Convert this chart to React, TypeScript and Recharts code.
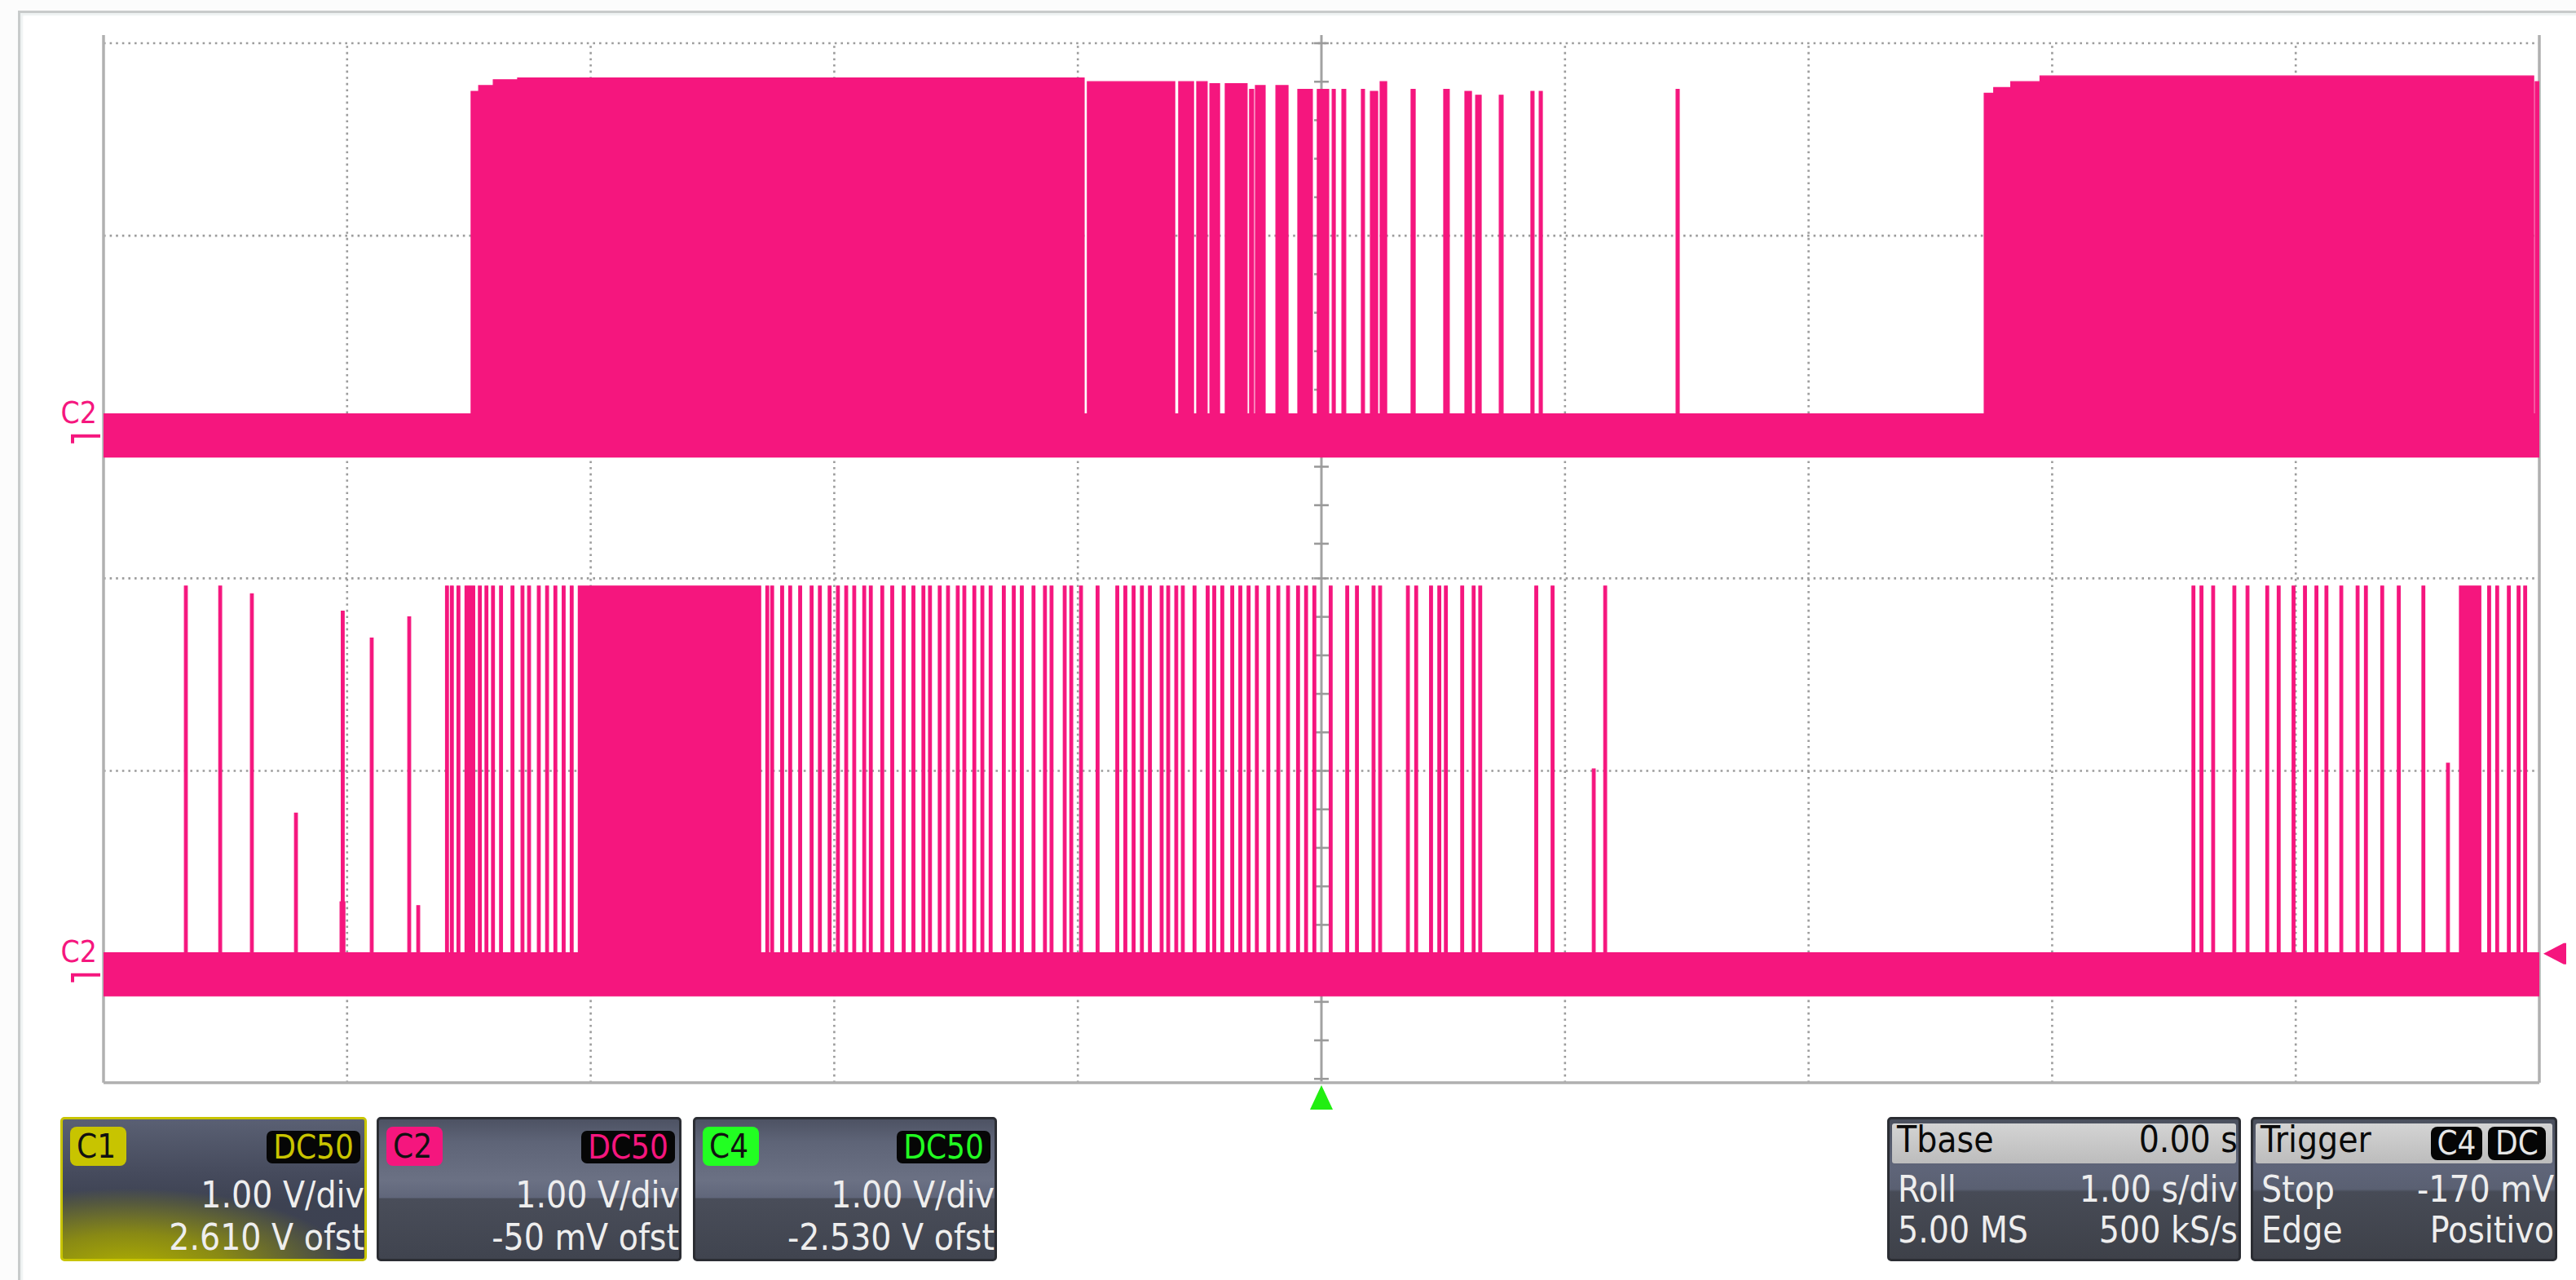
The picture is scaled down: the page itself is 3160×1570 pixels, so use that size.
import React from 'react';
import { ComposedChart, Area, XAxis, YAxis, ReferenceLine, ReferenceDot } from 'recharts';

// ---------- chart geometry / style ----------
const W = 3160;
const H = 1570;
const MARGIN = { top: 53, right: 45, bottom: 242, left: 127 };
const PINK = '#f5167e';
const GREEN = '#22ee11';
const YELLOW = '#c8c400';
const FONT = '"DejaVu Sans Condensed", "DejaVu Sans", sans-serif';

// ---------- axes (time in s, 1 s/div ; display volts, 1 V/div) ----------
const timeDomain: [number, number] = [-5, 5];
const voltDomain: [number, number] = [-3.36, 2.04];
const timeGrid = [-4, -3, -2, -1, 1, 2, 3, 4];
const voltGrid = [2.04, 1.04, 0.04, -0.74, -1.74, -2.74];
const centerTicks = [
  2.04, 1.84, 1.64, 1.44, 1.24, 1.04, 0.84, 0.64, 0.44, 0.24, 0.04, -0.16, -0.36, -0.56,
  -0.74, -0.94, -1.14, -1.34, -1.54, -1.74, -1.94, -2.14, -2.34, -2.54, -2.74, -2.94, -3.14, -3.34,
];

// channel display offsets (V) and noise band of the idle level (V)
const upperOffset = 0;
const lowerOffset = -2.8;
const noiseLow = -0.11;
const noiseHigh = 0.115;
const spikeHalf = 0.006;
const triggerLevel = -2.69;

// ---------- upper C2 trace: toggling bursts [start s, end s, top V] ----------
const upperBursts: [number, number, number][] = [
  [-3.491, -3.46, 1.79], [-3.46, -3.4, 1.82], [-3.4, -3.3, 1.85], [-3.3, -0.974, 1.86],
  [-0.961, -0.602, 1.84], [-0.586, -0.525, 1.84], [-0.512, -0.469, 1.84],
  [-0.458, -0.418, 1.83], [-0.395, -0.305, 1.83], [-0.295, -0.278, 1.8],
  [-0.271, -0.231, 1.82], [-0.187, -0.137, 1.82], [-0.097, -0.037, 1.8],
  [-0.017, 0.03, 1.8], [0.044, 0.057, 1.8], [0.084, 0.1, 1.8], [0.164, 0.177, 1.8],
  [0.201, 0.231, 1.79], [0.241, 0.268, 1.84], [0.368, 0.385, 1.8], [0.502, 0.525, 1.8],
  [0.589, 0.616, 1.79], [0.633, 0.656, 1.77], [0.73, 0.746, 1.77], [0.86, 0.873, 1.79],
  [0.894, 0.907, 1.79], [1.456, 1.469, 1.8],
  [2.721, 2.76, 1.78], [2.76, 2.83, 1.81], [2.83, 2.95, 1.84], [2.95, 4.977, 1.87], [4.983, 5.0, 1.84],
];
const upperSpikes: [number, number][] = [];

// ---------- lower C2 trace ----------
const lowerBursts: [number, number, number][] = [
  [-4.029, -4.009, 0.38], [-3.516, -3.476, 2.02], [-3.051, -2.302, 2.02], [4.672, 4.76, 2.02],
];
const lowerSpikes: [number, number][] = [
  [-4.662, 2.02], [-4.521, 2.02], [-4.391, 1.98], [-4.21, 0.84], [-4.018, 1.89], [-3.899, 1.75],
  [-3.745, 1.86], [-3.708, 0.36], [-3.59, 2.02], [-3.57, 2.02], [-3.543, 2.02], [-3.455, 2.02],
  [-3.428, 2.02], [-3.401, 2.02], [-3.368, 2.02], [-3.321, 2.02], [-3.28, 2.02], [-3.253, 2.02],
  [-3.213, 2.02], [-3.179, 2.02], [-3.145, 2.02], [-3.111, 2.02], [-3.078, 2.02],
  [-2.275, 2.02], [-2.255, 2.02], [-2.214, 2.02], [-2.181, 2.02], [-2.14, 2.02], [-2.093, 2.02],
  [-2.059, 2.02], [-2.019, 2.02], [-1.985, 2.02], [-1.951, 2.02], [-1.918, 2.02], [-1.877, 2.02],
  [-1.85, 2.02], [-1.803, 2.02], [-1.762, 2.02], [-1.715, 2.02], [-1.675, 2.02], [-1.634, 2.02],
  [-1.607, 2.02], [-1.567, 2.02], [-1.533, 2.02], [-1.493, 2.02], [-1.466, 2.02], [-1.425, 2.02],
  [-1.392, 2.02], [-1.358, 2.02], [-1.304, 2.02], [-1.263, 2.02], [-1.23, 2.02], [-1.182, 2.02],
  [-1.135, 2.02], [-1.108, 2.02], [-1.054, 2.02], [-1.027, 2.02], [-0.987, 2.02], [-0.919, 2.02],
  [-0.838, 2.02], [-0.805, 2.02], [-0.771, 2.02], [-0.737, 2.02], [-0.704, 2.02], [-0.656, 2.02],
  [-0.629, 2.02], [-0.596, 2.02], [-0.569, 2.02], [-0.521, 2.02], [-0.467, 2.02], [-0.44, 2.02],
  [-0.407, 2.02], [-0.366, 2.02], [-0.333, 2.02], [-0.299, 2.02], [-0.265, 2.02], [-0.218, 2.02],
  [-0.177, 2.02], [-0.137, 2.02], [-0.096, 2.02], [-0.063, 2.02], [-0.029, 2.02], [0.038, 2.02],
  [0.106, 2.02], [0.146, 2.02], [0.214, 2.02], [0.241, 2.02], [0.355, 2.02], [0.389, 2.02],
  [0.45, 2.02], [0.484, 2.02], [0.511, 2.02], [0.578, 2.02], [0.625, 2.02], [0.652, 2.02],
  [0.882, 2.02], [0.949, 2.02], [1.118, 1.07], [1.165, 2.02],
  [3.58, 2.02], [3.613, 2.02], [3.661, 2.02], [3.748, 2.02], [3.802, 2.02], [3.883, 2.02],
  [3.93, 2.02], [3.991, 2.02], [4.038, 2.02], [4.085, 2.02], [4.126, 2.02], [4.187, 2.02],
  [4.254, 2.02], [4.288, 2.02], [4.355, 2.02], [4.423, 2.02], [4.524, 2.02], [4.625, 1.1],
  [4.794, 2.02], [4.827, 2.02], [4.875, 2.02], [4.915, 2.02], [4.942, 2.02],
];

type Burst = [number, number, number];

function envelope(bursts: Burst[], spikes: [number, number][], offset: number) {
  const all: Burst[] = [
    ...bursts,
    ...spikes.map(([t, top]) => [t - spikeHalf, t + spikeHalf, top] as Burst),
  ];
  const edges = Array.from(
    new Set([timeDomain[0], timeDomain[1], ...all.flatMap((b) => [b[0], b[1]])])
  )
    .map((e) => Math.min(timeDomain[1], Math.max(timeDomain[0], e)))
    .sort((a, b) => a - b);
  const uniq = edges.filter((e, i) => i === 0 || e !== edges[i - 1]);
  const lo = offset + noiseLow;
  const pts: { t: number; band: [number, number] }[] = [];
  for (let i = 0; i < uniq.length - 1; i++) {
    const a = uniq[i];
    const b = uniq[i + 1];
    const mid = (a + b) / 2;
    let top = noiseHigh;
    for (const [s, e, h] of all) if (s <= mid && mid <= e && h > top) top = h;
    pts.push({ t: a, band: [lo, offset + top] });
    pts.push({ t: b, band: [lo, offset + top] });
  }
  return pts;
}

const upperData = envelope(upperBursts, upperSpikes, upperOffset);
const lowerData = envelope(lowerBursts, lowerSpikes, lowerOffset);

const DOTTED = { stroke: '#9c9c9c', strokeWidth: 2.6, strokeDasharray: '2.6 5' };
const BORDER = '#b0b0b0';
const topExt = 2.082;

function Axes() {
  return (
    <>
      <XAxis dataKey="t" type="number" domain={timeDomain} allowDataOverflow hide />
      <YAxis type="number" domain={voltDomain} allowDataOverflow hide />
    </>
  );
}

function C2Marker({ cx, cy }: any) {
  if (cx == null || cy == null) return null;
  return (
    <g>
      <text x={cx - 8} y={cy - 16} textAnchor="end" fontFamily={FONT} fontSize={37} fill={PINK}>
        C2
      </text>
      <path
        d={`M${cx - 38} ${cy + 9} L${cx - 38} ${cy} L${cx - 4} ${cy}`}
        stroke={PINK}
        strokeWidth={4}
        fill="none"
      />
    </g>
  );
}

function LevelMarker({ cx, cy }: any) {
  if (cx == null || cy == null) return null;
  return (
    <path
      d={`M${cx + 5} ${cy} L${cx + 30} ${cy - 13} L${cx + 33} ${cy - 13} L${cx + 33} ${cy + 13} L${cx + 30} ${cy + 13} Z`}
      fill={PINK}
    />
  );
}

function TriggerMarker({ cx, cy }: any) {
  if (cx == null || cy == null) return null;
  return <path d={`M${cx} ${cy + 3} L${cx + 14} ${cy + 33} L${cx - 14} ${cy + 33} Z`} fill={GREEN} />;
}

const layer: React.CSSProperties = { position: 'absolute', left: 0, top: 0 };

const chBg =
  'linear-gradient(180deg, #4d5263 0%, #5e6477 16%, #6b7184 44%, #60667a 56%, #494d59 57%, #40444f 100%)';
const c1Bg =
  'radial-gradient(ellipse 95% 75% at 22% 108%, rgba(176,176,0,1) 0%, rgba(150,150,10,0.85) 35%, rgba(95,95,45,0) 78%), linear-gradient(180deg, #5a6073 0%, #464b5d 38%, #3d4252 60%, #3d4150 100%)';
const infoBg =
  'linear-gradient(180deg, #4b505e 0%, #5f6579 34%, #5a6072 50%, #474b56 52%, #3e4149 100%)';

const txt: React.CSSProperties = {
  position: 'absolute',
  fontSize: 44,
  lineHeight: '44px',
  color: '#eeeeee',
  whiteSpace: 'nowrap',
  fontFamily: FONT,
};

function ChannelPanel({ left, width, color, name, vdiv, ofst, active }: any) {
  return (
    <div
      style={{
        position: 'absolute',
        left,
        top: 1370,
        width,
        height: 177,
        boxSizing: 'border-box',
        border: active ? `3px solid ${YELLOW}` : '3px solid #2b2d33',
        borderRadius: 5,
        background: active ? c1Bg : chBg,
        overflow: 'hidden',
        fontFamily: FONT,
      }}
    >
      <div
        style={{
          position: 'absolute',
          left: 9,
          top: 9,
          width: 69,
          height: 48,
          borderRadius: 8,
          background: color,
          color: '#111',
          fontSize: 40,
          lineHeight: '48px',
          paddingLeft: 8,
          boxSizing: 'border-box',
        }}
      >
        {name}
      </div>
      <div
        style={{
          position: 'absolute',
          right: 5,
          top: 14,
          width: 115,
          height: 40,
          borderRadius: 7,
          background: '#060606',
          color,
          fontSize: 40,
          lineHeight: '40px',
          textAlign: 'center',
        }}
      >
        DC50
      </div>
      <div style={{ ...txt, right: 0, top: 71 }}>{vdiv}</div>
      <div style={{ ...txt, right: 0, top: 123 }}>{ofst}</div>
    </div>
  );
}

function InfoPanel({ left, width, title, titleRight, badges, rows }: any) {
  return (
    <div
      style={{
        position: 'absolute',
        left,
        top: 1370,
        width,
        height: 177,
        boxSizing: 'border-box',
        border: '3px solid #2b2d33',
        borderRadius: 5,
        background: infoBg,
        overflow: 'hidden',
        fontFamily: FONT,
      }}
    >
      <div
        style={{
          position: 'absolute',
          left: 3,
          right: 3,
          top: 5,
          height: 49,
          borderRadius: 3,
          background: 'linear-gradient(180deg, #d4d4d4, #bcbcbc)',
        }}
      />
      <div style={{ ...txt, color: '#0a0a0a', left: 9, top: 3 }}>{title}</div>
      {titleRight && <div style={{ ...txt, color: '#0a0a0a', right: 1, top: 3 }}>{titleRight}</div>}
      {badges &&
        badges.map((b: any) => (
          <div
            key={b.text}
            style={{
              position: 'absolute',
              left: b.left,
              top: 9,
              width: b.width,
              height: 41,
              borderRadius: 8,
              background: '#050505',
              color: '#e6e6e6',
              fontSize: 40,
              lineHeight: '41px',
              textAlign: 'center',
            }}
          >
            {b.text}
          </div>
        ))}
      {rows.map((r: any, i: number) => (
        <React.Fragment key={i}>
          <div style={{ ...txt, left: 10, top: 64 + i * 50 }}>{r[0]}</div>
          <div style={{ ...txt, right: 1, top: 64 + i * 50 }}>{r[1]}</div>
        </React.Fragment>
      ))}
    </div>
  );
}

export default function App() {
  return (
    <div style={{ position: 'absolute', left: 0, top: 0, width: W, height: H, background: '#fcfcfc', overflow: 'hidden' }}>
      <div
        style={{
          position: 'absolute',
          left: 22,
          top: 13,
          width: 3300,
          height: 1700,
          background: '#ffffff',
          borderLeft: '3px solid #c8cbcb',
          borderTop: '3px solid #c8cbcb',
          boxShadow: 'inset 3px 3px 2px #eef2f2',
        }}
      />
      {/* grid layer */}
      <div style={layer}>
        <ComposedChart width={W} height={H} data={upperData} margin={MARGIN}>
          {Axes()}
          {voltGrid.map((v) => (
            <ReferenceLine key={'h' + v} y={v} {...DOTTED} ifOverflow="visible" />
          ))}
          {timeGrid.map((t) => (
            <ReferenceLine key={'v' + t} x={t} {...DOTTED} ifOverflow="visible" />
          ))}
          <ReferenceLine
            segment={[{ x: 0, y: topExt }, { x: 0, y: voltDomain[0] }]}
            stroke="#a2a2a2"
            strokeWidth={3}
            ifOverflow="visible"
          />
          {centerTicks.map((v) => (
            <ReferenceLine
              key={'t' + v}
              segment={[{ x: -0.03, y: v }, { x: 0.03, y: v }]}
              stroke="#9a9a9a"
              strokeWidth={2.6}
              ifOverflow="visible"
            />
          ))}
          <ReferenceLine
            segment={[{ x: timeDomain[0], y: topExt }, { x: timeDomain[0], y: voltDomain[0] }]}
            stroke={BORDER}
            strokeWidth={3.5}
            ifOverflow="visible"
          />
          <ReferenceLine
            segment={[{ x: timeDomain[1], y: topExt }, { x: timeDomain[1], y: voltDomain[0] }]}
            stroke={BORDER}
            strokeWidth={3.5}
            ifOverflow="visible"
          />
          <ReferenceLine y={voltDomain[0]} stroke={BORDER} strokeWidth={3.5} ifOverflow="visible" />
        </ComposedChart>
      </div>
      {/* upper trace */}
      <div style={layer}>
        <ComposedChart width={W} height={H} data={upperData} margin={MARGIN}>
          {Axes()}
          <Area
            dataKey="band"
            type="linear"
            stroke={PINK}
            strokeWidth={1.2}
            fill={PINK}
            fillOpacity={1}
            dot={false}
            activeDot={false}
            isAnimationActive={false}
          />
        </ComposedChart>
      </div>
      {/* lower trace */}
      <div style={layer}>
        <ComposedChart width={W} height={H} data={lowerData} margin={MARGIN}>
          {Axes()}
          <Area
            dataKey="band"
            type="linear"
            stroke={PINK}
            strokeWidth={1.2}
            fill={PINK}
            fillOpacity={1}
            dot={false}
            activeDot={false}
            isAnimationActive={false}
          />
        </ComposedChart>
      </div>
      {/* markers */}
      <div style={layer}>
        <ComposedChart width={W} height={H} data={upperData} margin={MARGIN}>
          {Axes()}
          <ReferenceDot x={timeDomain[0]} y={upperOffset} r={0} ifOverflow="visible" shape={(p: any) => <C2Marker {...p} />} />
          <ReferenceDot x={timeDomain[0]} y={lowerOffset} r={0} ifOverflow="visible" shape={(p: any) => <C2Marker {...p} />} />
          <ReferenceDot x={timeDomain[1]} y={triggerLevel} r={0} ifOverflow="visible" shape={(p: any) => <LevelMarker {...p} />} />
          <ReferenceDot x={0} y={voltDomain[0]} r={0} ifOverflow="visible" shape={(p: any) => <TriggerMarker {...p} />} />
        </ComposedChart>
      </div>
      <ChannelPanel left={74} width={376} color={YELLOW} name="C1" vdiv="1.00 V/div" ofst="2.610 V ofst" active />
      <ChannelPanel left={462} width={374} color={PINK} name="C2" vdiv="1.00 V/div" ofst="-50 mV ofst" />
      <ChannelPanel left={850} width={373} color="#22ff22" name="C4" vdiv="1.00 V/div" ofst="-2.530 V ofst" />
      <InfoPanel
        left={2315}
        width={434}
        title="Tbase"
        titleRight="0.00 s"
        rows={[
          ['Roll', '1.00 s/div'],
          ['5.00 MS', '500 kS/s'],
        ]}
      />
      <InfoPanel
        left={2761}
        width={376}
        title="Trigger"
        badges={[
          { text: 'C4', left: 218, width: 63 },
          { text: 'DC', left: 288, width: 71 },
        ]}
        rows={[
          ['Stop', '-170 mV'],
          ['Edge', 'Positivo'],
        ]}
      />
    </div>
  );
}
